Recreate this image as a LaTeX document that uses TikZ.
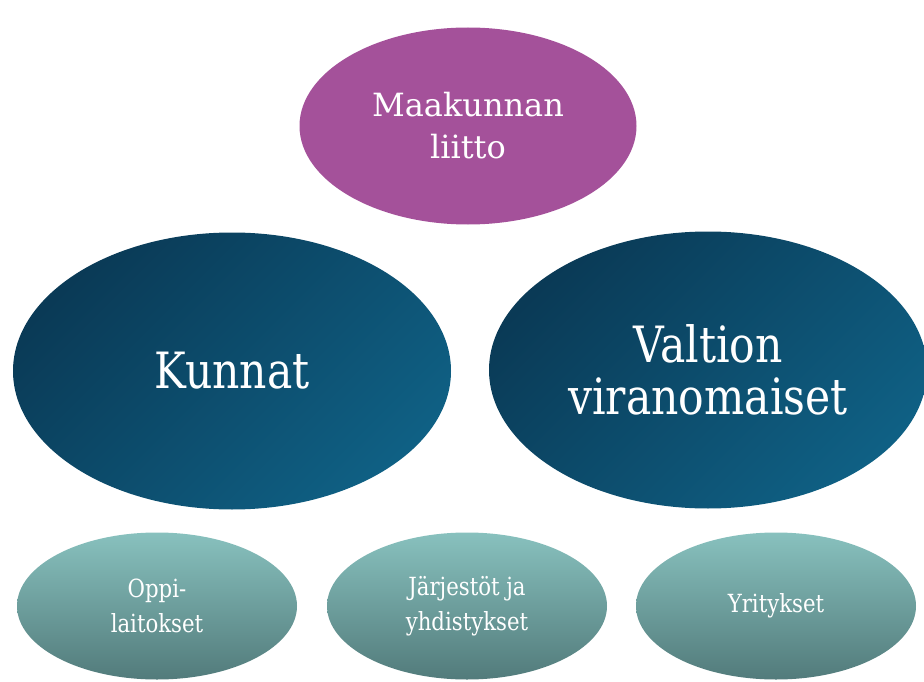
\documentclass[tikz,border=0pt]{standalone}
\usepackage{fontspec}
\setmainfont{DejaVu Serif}
\newfontfamily\narrowfont[FakeStretch=0.85]{DejaVu Serif}
\usetikzlibrary{shapes.geometric}
\definecolor{liittopurple}{HTML}{A4519A}
\definecolor{bluedark}{HTML}{0A3A56}
\definecolor{bluelight}{HTML}{0F6084}
\definecolor{tealtop}{HTML}{88C1BE}
\definecolor{tealbottom}{HTML}{527B7B}
\tikzset{blob/.style={ellipse, inner sep=0pt, text=white, align=center}}
\tikzset{bigblob/.style={blob, minimum width=438pt, minimum height=277pt, top color=bluedark, bottom color=bluelight, shading angle=45, font=\narrowfont\fontsize{50}{52}\selectfont}}
\tikzset{smallblob/.style={blob, minimum width=280pt, minimum height=147pt, top color=tealtop, bottom color=tealbottom, font=\narrowfont\fontsize{25}{35}\selectfont}}

\begin{document}
\begin{tikzpicture}[x=1pt, y=-1pt]
    \useasboundingbox (0,0) rectangle (924,682);
    \node[blob, fill=liittopurple, minimum width=337pt, minimum height=197pt, font=\fontsize{32}{42}\selectfont] (liitto) at (468,126) {Maakunnan\\liitto};
    \node[bigblob] (kunnat) at (232,371) {Kunnat};
    \node[bigblob] (valtio) at (708,370) {Valtion\\viranomaiset};
    \node[smallblob] (oppilaitokset) at (157,606) {Oppi-\\laitokset};
    \node[smallblob] (jarjestot) at (467,606) {Järjestöt ja\\yhdistykset};
    \node[smallblob] (yritykset) at (776,606) {Yritykset};
    \end{tikzpicture}
\end{document}
